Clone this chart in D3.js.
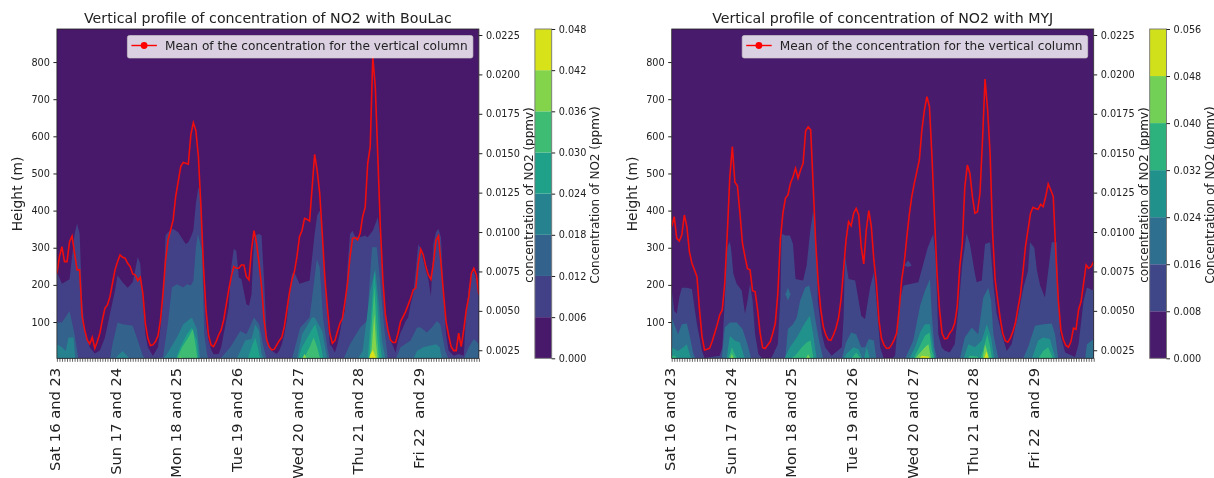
<!DOCTYPE html>
<html>
<head>
<meta charset="utf-8">
<script src="https://cdn.jsdelivr.net/npm/d3@7"></script>
<style>
  body { margin: 0; background: #fff; overflow: hidden; }
  svg { filter: blur(0.35px); }
  text { font-family: "DejaVu Sans", sans-serif; fill: #222; }
  .tick line { stroke: #222; }
  .domain { display: none; }
</style>
</head>
<body>
<div id="chart"></div>
<script>
// hour labels for the x axis, one every 24 hours
var dayLabels = ["Sat 16 and 23", "Sun 17 and 24", "Mon 18 and 25", "Tue 19 and 26", "Wed 20 and 27", "Thu 21 and 28", "Fri 22  and 29"];
var heightTicks = [100, 200, 300, 400, 500, 600, 700, 800];
var meanTicks = [0.0025, 0.005, 0.0075, 0.01, 0.0125, 0.015, 0.0175, 0.02, 0.0225];
var boulacLevels = [0, 0.006, 0.012, 0.018, 0.024, 0.03, 0.036, 0.042, 0.048];
var myjLevels = [0, 0.008, 0.016, 0.024, 0.032, 0.04, 0.048, 0.056];

// mean concentration of the vertical column, one value per hour (ppmv)
var boulacMean = [
  .00738,.00844,.00907,.00812,.00812,.00939,.00975,.00865,.0076,.0076,.00464,.00379,.00316,.0029,.00332,.00263,.00305,.00358,.00442,.00516,.00538,.0059,.00675,.0076,
  .00812,.00855,.0084,.00834,.00802,.00781,.00734,.00728,.00692,.00713,.00612,.00421,.00326,.0028,.00284,.00305,.00341,.00442,.00612,.00823,.0095,.01013,.01077,.01225,
  .0132,.01415,.01442,.01436,.0143,.01616,.01694,.01643,.01478,.01161,.00781,.00506,.00347,.00284,.00273,.00305,.00347,.00379,.00442,.00538,.00633,.00717,.00781,.0077,
  .0077,.00791,.00791,.00717,.00696,.00886,.01009,.00929,.00802,.00654,.00442,.00316,.00273,.00252,.00256,.00284,.00311,.00332,.004,.00506,.00612,.00696,.00749,.00844,
  .00971,.0101,.01087,.0108,.0107,.01281,.01493,.0139,.01246,.00992,.00717,.00527,.00358,.00294,.00311,.00368,.00421,.00453,.00559,.00675,.00844,.0096,.00965,.0095,
  .00992,.01098,.01157,.01436,.01542,.02113,.01922,.01478,.01034,.00696,.00474,.00379,.00316,.00299,.00299,.00358,.00432,.00464,.00495,.00538,.0058,.00633,.00644,.00802,
  .00891,.00855,.00781,.00728,.007,.00802,.00946,.00975,.00802,.00612,.00432,.00347,.00273,.00248,.00248,.00358,.00273,.00379,.00506,.0059,.00738,.0077,.00728,.00601
];
var myjMean = [
  .01034,.01098,.0096,.00943,.00981,.01108,.01034,.00876,.00802,.0076,.00717,.00506,.00337,.00252,.00256,.00263,.00305,.00358,.00411,.00474,.00506,.00675,.00992,.0135,
  .01542,.01316,.01294,.01119,.00929,.00844,.00768,.0076,.00628,.00622,.00506,.00358,.00267,.00261,.00284,.00305,.00358,.00421,.00612,.0095,.01119,.01214,.01235,.01309,
  .0135,.01404,.01341,.01394,.01436,.01641,.01667,.01648,.01288,.00929,.00675,.00506,.004,.00347,.00316,.00313,.00347,.0039,.00453,.00569,.0076,.0095,.01066,.01039,
  .01119,.0115,.01108,.00907,.00798,.01013,.01136,.01034,.00823,.00675,.00442,.00326,.00284,.00263,.00263,.00284,.00316,.00358,.00506,.00696,.00802,.0096,.01108,.01225,
  .01309,.01383,.01457,.01647,.01774,.01859,.01795,.01478,.01098,.00738,.00506,.00358,.00322,.00326,.00358,.00379,.00421,.00527,.00781,.00929,.01288,.01425,.01373,.01225,
  .01119,.01129,.01246,.01584,.0197,.0178,.01499,.00992,.00696,.00569,.00453,.00358,.00311,.00301,.00326,.00368,.00421,.00516,.00601,.00749,.00908,.01013,.01119,.01157,
  .0115,.01144,.01176,.01161,.01225,.01305,.01267,.01225,.00865,.00569,.00379,.00316,.0028,.00269,.00305,.0039,.00383,.00506,.00559,.00675,.00791,.0077,.00781,.00812
];

// height (m) reached by each concentration level, as [hour, height]
var boulac006 = [[0,235],[2,203],[5,215],[7,338],[8,365],[9,338],[10,158],[11,77],[13,32],[15,15],[17,23],[19,58],[21,122],[23,185],[24,225],[26,207],[28,192],[30,207],[32,275],[33,257],[34,158],[35,68],[36,32],[38,9],[40,32],[41,86],[42,158],[43,333],[44,342],[46,351],[48,342],[50,320],[51,310],[52,315],[53,329],[54,347],[55,420],[56,464],[57,427],[58,203],[59,95],[60,50],[61,27],[62,13],[64,14],[65,32],[66,68],[68,140],[69,248],[70,297],[71,292],[72,220],[73,216],[75,148],[76,144],[77,175],[78,320],[79,335],[80,337],[81,333],[82,211],[83,68],[84,32],[85,23],[87,14],[88,23],[89,40],[90,68],[91,104],[92,175],[93,230],[94,234],[96,203],[100,212],[101,275],[102,338],[103,387],[104,400],[105,347],[106,230],[107,130],[108,40],[109,32],[110,18],[111,40],[112,72],[113,112],[114,130],[115,247],[116,337],[117,346],[118,330],[120,328],[122,333],[123,328],[124,337],[125,346],[126,364],[127,382],[128,328],[129,202],[130,130],[131,85],[132,50],[133,36],[134,18],[135,50],[136,72],[137,85],[138,103],[139,112],[140,148],[141,175],[142,238],[143,310],[144,297],[145,265],[146,238],[147,216],[148,170],[149,310],[150,342],[151,351],[152,328],[153,175],[154,68],[155,23],[157,9],[159,14],[161,9],[162,130],[163,193],[164,225],[165,238],[166,212],[167,171]];
var boulac012 = [[0,99],[2,99],[5,130],[7,67],[8.5,0],[21,0],[22,40],[24,99],[26,94],[30,90],[32,50],[34,9],[35,0],[42,5],[44,100],[45.5,193],[47.5,202],[50,193],[51.5,202],[53,198],[54,211],[55,300],[55.8,337],[57.4,292],[58.3,68],[59.4,13],[60,0],[64.6,0],[68.6,32],[72.6,76],[75,67],[78,112],[80,94],[81.8,32],[83,0],[93,0],[96.3,85],[100,112],[102.9,270],[104,247],[105.3,112],[107,32],[108,0],[113.4,0],[116,40],[120,85],[122.7,103],[124.7,301],[126.6,301],[128,202],[129.5,85],[131,0],[134,0],[136,32],[140,50],[142.5,85],[144,85],[146.4,72],[148.4,85],[150.4,103],[151.7,94],[153.7,22],[155,0],[161,0],[163,32],[165,54],[167,40]];
var boulac018 = [[0,40],[2,32],[3.5,22],[4.6,58],[6.6,58],[7.3,0],[23,0],[24,9],[26,22],[29,0],[42,0],[43.5,13],[47.5,58],[50,94],[53.4,112],[55.4,81],[56.7,0],[71,0],[72.6,22],[74.5,50],[77,54],[78.5,94],[80,76],[81,13],[82,0],[95,0],[97,67],[101,112],[102,112],[105,76],[107,0],[119,0],[121,22],[124,184],[126,243],[127.3,157],[128.6,50],[130,0],[141,0],[142.5,22],[145,32],[150,40],[151.5,32],[152.4,0]];
var boulac024 = [[47,0],[48.8,32],[51.5,68],[53.4,85],[55.4,50],[56,0],[75.5,0],[77,32],[78.5,58],[79.5,32],[80.5,0],[95.5,0],[97,32],[101,81],[102.3,94],[104,50],[105.5,0],[123,0],[124.7,157],[125.6,238],[126.6,166],[127.7,50],[128.7,0]];
var boulac030 = [[47.5,0],[49.5,32],[52,58],[53.8,81],[55,32],[55.6,0],[97.6,0],[100,32],[101.6,58],[103,32],[104.2,0],[123.7,0],[124.7,104],[125.6,193],[126.6,76],[127.5,0]];
var boulac036 = [[48,0],[49,6],[50,0],[97,0],[98,14],[99,0],[124.3,0],[125,67],[125.6,121],[126.2,50],[126.9,0]];
var boulac042 = [[123.5,0],[124,13],[125,25],[126,8],[126.5,0]];

var myj008 = [[0,189],[1,130],[2,122],[3,167],[4,192],[6,192],[8,189],[9,140],[10,94],[11,58],[12,22],[13,3],[19,9],[20,30],[21,158],[22,301],[23,317],[23.5,297],[24.4,230],[25.7,203],[27.7,185],[29,122],[30,157],[31,203],[32,158],[33,68],[34.3,14],[36,0],[38,0],[39.6,5],[42,40],[43,167],[43.5,338],[45,333],[46.8,333],[48,310],[49,216],[50.8,213],[52,212],[53.4,252],[54.7,338],[56,400],[57,337],[57.7,247],[57.8,158],[59.4,68],[60.7,32],[63.3,9],[67.3,32],[68,110],[68.6,277],[70,216],[72.6,212],[75,117],[76.5,108],[78.5,193],[80,234],[81,158],[82.5,32],[84,0],[87,0],[88.4,9],[90.3,158],[91.7,198],[97.6,207],[101.3,300],[103.5,337],[104.5,265],[105.5,68],[106.8,32],[108,23],[110,18],[112,40],[113.4,130],[115,256],[116.7,339],[118,310],[120,230],[120.7,207],[122.7,212],[124,310],[126,315],[127.3,202],[128.6,122],[130.6,68],[132.6,22],[134.5,40],[137.2,122],[139.2,193],[141,238],[141.8,315],[143.5,300],[144.5,240],[145.8,198],[147.7,166],[150.4,315],[152.4,315],[153.7,68],[155.7,18],[159.6,6],[161,40],[163,157],[164.3,193],[167,184]];
var myj016 = [[0,112],[2.5,67],[4,94],[6,96],[7,67],[8.6,13],[9.5,0],[19.8,0],[21,85],[23,99],[25.7,99],[28,81],[30,40],[31.5,0],[44.9,0],[46,81],[48,94],[49.5,112],[50.8,157],[52.8,193],[54.4,198],[55.7,157],[56.7,112],[58.3,50],[60,0],[67.3,0],[69,45],[71,72],[73,67],[75,32],[76.5,32],[78,54],[80,50],[81,0],[92.3,0],[95.6,50],[98.3,144],[100.2,184],[102.2,216],[103,112],[104,32],[105,0],[114,0],[116,58],[118.7,85],[121.3,67],[123.3,166],[125.3,192],[126.4,157],[127.3,68],[129.3,0],[139,0],[141,32],[143.8,90],[147,94],[150.4,96],[151.7,67],[153,0],[163.6,0],[164.3,40],[167,54]];
var myj024 = [[0,32],[2.5,22],[4.6,32],[6,40],[7.3,9],[8,0],[21,0],[21.8,5],[23,63],[25,50],[27,45],[29,0],[44.5,0],[46.8,32],[49.5,58],[52.8,99],[54.7,117],[56,67],[57.4,0],[68,0],[69,13],[71.9,32],[74,27],[75.5,0],[76,0],[77.2,32],[78.5,0],[93,0],[94.3,5],[96.3,32],[98.3,72],[100.2,94],[102.2,94],[103.5,32],[104.2,0],[115.4,0],[117.4,40],[120,32],[122.7,50],[124.7,94],[126.4,58],[127.7,0],[142.5,0],[145,50],[147,58],[149.7,54],[151.7,5],[152.5,0]];
var myj032 = [[0,9],[1.5,9],[2,0],[22.4,0],[23.8,32],[25,13],[26,0],[46.8,0],[48.8,9],[51.5,32],[53.4,45],[55,50],[56,5],[56.5,0],[71,0],[73,18],[75,0],[95.6,0],[97.6,27],[100.2,63],[102,72],[103,22],[104,0],[117,0],[118,9],[121,7],[122,0],[123.3,27],[124.9,67],[126,32],[126.8,0],[145,0],[147,22],[149,32],[150.4,9],[151,0]];
var myj040 = [[23,0],[23.8,15],[24.7,0],[53,0],[54,13],[55,0],[96,0],[97.6,12],[100.2,32],[101.6,40],[102.6,3],[103,0],[123,0],[124,40],[125.6,5],[126,0]];
var myj048 = [[97.5,0],[99,9],[101.6,7],[102.5,0],[123.5,0],[124.6,22],[125.4,0]];

// small detached patches of a band, as [hour, height]
var myjPatch008 = [[92,252],[93.5,248],[95,252],[93.5,266]];
var myjPatch016 = [[45,175],[46,158],[47,175],[46,192]];

var svg = d3.select("#chart").append("svg")
    .attr("width", 1214)
    .attr("height", 478);

var defsId = 0;

function drawPanel(p) {
    var top = 29, bottom = 358.3;

    var x = d3.scaleLinear().domain([0, 167]).range([p.left, p.left + 422]);
    var y = d3.scaleLinear().domain([2.3, 889]).range([bottom, top]);
    var yMean = d3.scaleLinear().domain([0.00199, 0.02288]).range([bottom, top]);

    var n = p.levels.length - 1;
    var colorOf = function(i) { return d3.interpolateViridis((i + 0.5) / n); };

    var clipId = "clip" + (defsId++);
    svg.append("clipPath").attr("id", clipId).append("rect")
        .attr("x", p.left).attr("y", top)
        .attr("width", 422).attr("height", bottom - top);

    var plot = svg.append("g").attr("clip-path", "url(#" + clipId + ")");

    // lowest band fills the whole panel
    plot.append("rect")
        .attr("x", p.left).attr("y", top)
        .attr("width", 422).attr("height", bottom - top)
        .attr("fill", colorOf(0));

    var area = d3.area()
        .x(d => x(d[0]))
        .y0(bottom + 2)
        .y1(d => y(d[1]));

    p.bands.forEach(function(band, i) {
        plot.append("path")
            .attr("d", area(band))
            .attr("fill", colorOf(i + 1));
    });

    p.patches.forEach(function(patch) {
        plot.append("path")
            .attr("d", d3.line().x(d => x(d[0])).y(d => y(d[1]))(patch.points) + "Z")
            .attr("fill", colorOf(patch.band));
    });

    plot.append("path")
        .datum(p.mean)
        .attr("d", d3.line().x((d, i) => x(i)).y(d => yMean(d)))
        .attr("fill", "none")
        .attr("stroke", "#f00d0d")
        .attr("stroke-width", 1.6);

    // frame
    svg.append("rect")
        .attr("x", p.left).attr("y", top)
        .attr("width", 422).attr("height", bottom - top)
        .attr("fill", "none")
        .attr("stroke", "#222")
        .attr("stroke-width", 0.8);

    // x axis, every hour with a label per day
    var xAxis = svg.append("g")
        .attr("transform", "translate(0," + bottom + ")")
        .call(d3.axisBottom(x).tickValues(d3.range(168)).tickSize(3.5)
            .tickFormat(d => d % 24 == 0 ? dayLabels[d / 24] : ""));
    xAxis.selectAll("line").attr("stroke-width", 0.7);
    xAxis.selectAll("text")
        .attr("transform", "rotate(-90)")
        .attr("x", -9.5)
        .attr("y", -2)
        .attr("dy", "0.32em")
        .style("text-anchor", "end")
        .style("white-space", "pre")
        .style("font-size", "14.7px");

    var yAxis = svg.append("g")
        .attr("transform", "translate(" + p.left + ",0)")
        .call(d3.axisLeft(y).tickValues(heightTicks).tickSize(3.5).tickPadding(3.5));
    yAxis.selectAll("text").style("font-size", "9.7px");

    var rightAxis = svg.append("g")
        .attr("transform", "translate(" + (p.left + 422) + ",0)")
        .call(d3.axisRight(yMean).tickValues(meanTicks).tickSize(3.5).tickPadding(3.5)
            .tickFormat(d3.format(".4f")));
    rightAxis.selectAll("text").style("font-size", "9.7px");

    svg.append("text")
        .attr("x", p.left + 211)
        .attr("y", 23)
        .attr("text-anchor", "middle")
        .style("font-size", "14.2px")
        .text(p.title);

    svg.append("text")
        .attr("transform", "translate(" + (p.left - 39) + ",194) rotate(-90)")
        .attr("text-anchor", "middle")
        .attr("dy", "0.32em")
        .style("font-size", "13.9px")
        .text("Height (m)");

    svg.append("text")
        .attr("transform", "translate(" + (p.left + 472) + ",195) rotate(-90)")
        .attr("text-anchor", "middle")
        .attr("dy", "0.32em")
        .style("font-size", "12px")
        .text("concentration of NO2 (ppmv)");

    // legend box
    var lx = p.left + 70.5;
    svg.append("rect")
        .attr("x", lx).attr("y", 35.5)
        .attr("width", 345.5).attr("height", 22.5)
        .attr("rx", 2)
        .attr("fill", "#fff")
        .attr("fill-opacity", 0.8)
        .attr("stroke", "#ccc")
        .attr("stroke-opacity", 0.8)
        .attr("stroke-width", 0.8);
    svg.append("line")
        .attr("x1", lx + 4).attr("x2", lx + 29.5)
        .attr("y1", 45.5).attr("y2", 45.5)
        .attr("stroke", "#f00")
        .attr("stroke-width", 1.4);
    svg.append("circle")
        .attr("cx", lx + 16.7).attr("cy", 45.5)
        .attr("r", 3.4)
        .attr("fill", "#f00");
    svg.append("text")
        .attr("x", lx + 37.5)
        .attr("y", 50.3)
        .style("font-size", "12.16px")
        .text("Mean of the concentration for the vertical column");

    // colour bar, equal height per band
    var cbX = p.left + 478;
    var cbY = d3.scaleLinear().domain(d3.extent(p.levels)).range([bottom, top]);
    svg.selectAll(null)
        .data(d3.range(n)).enter()
        .append("rect")
        .attr("x", cbX)
        .attr("y", i => cbY(p.levels[i + 1]))
        .attr("width", 16.8)
        .attr("height", i => cbY(p.levels[i]) - cbY(p.levels[i + 1]))
        .attr("fill", i => colorOf(i));
    svg.append("rect")
        .attr("x", cbX).attr("y", top)
        .attr("width", 16.8).attr("height", bottom - top)
        .attr("fill", "none")
        .attr("stroke", "#777")
        .attr("stroke-width", 0.9);
    var cbAxis = svg.append("g")
        .attr("transform", "translate(" + (cbX + 16.8) + ",0)")
        .call(d3.axisRight(cbY).tickValues(p.levels).tickSize(3.5).tickPadding(3.5)
            .tickFormat(d3.format(".3f")));
    cbAxis.selectAll("text").style("font-size", "9.7px");

    svg.append("text")
        .attr("transform", "translate(" + (cbX + 60) + ",195) rotate(-90)")
        .attr("text-anchor", "middle")
        .attr("dy", "0.32em")
        .style("font-size", "12px")
        .text("Concentration of NO2 (ppmv)");
}

drawPanel({
    left: 56.9,
    title: "Vertical profile of concentration of NO2 with BouLac",
    levels: boulacLevels,
    mean: boulacMean,
    bands: [boulac006, boulac012, boulac018, boulac024, boulac030, boulac036, boulac042],
    patches: []
});

drawPanel({
    left: 671.7,
    title: "Vertical profile of concentration of NO2 with MYJ",
    levels: myjLevels,
    mean: myjMean,
    bands: [myj008, myj016, myj024, myj032, myj040, myj048],
    patches: [{ band: 1, points: myjPatch008 }, { band: 2, points: myjPatch016 }]
});
</script>
</body>
</html>
